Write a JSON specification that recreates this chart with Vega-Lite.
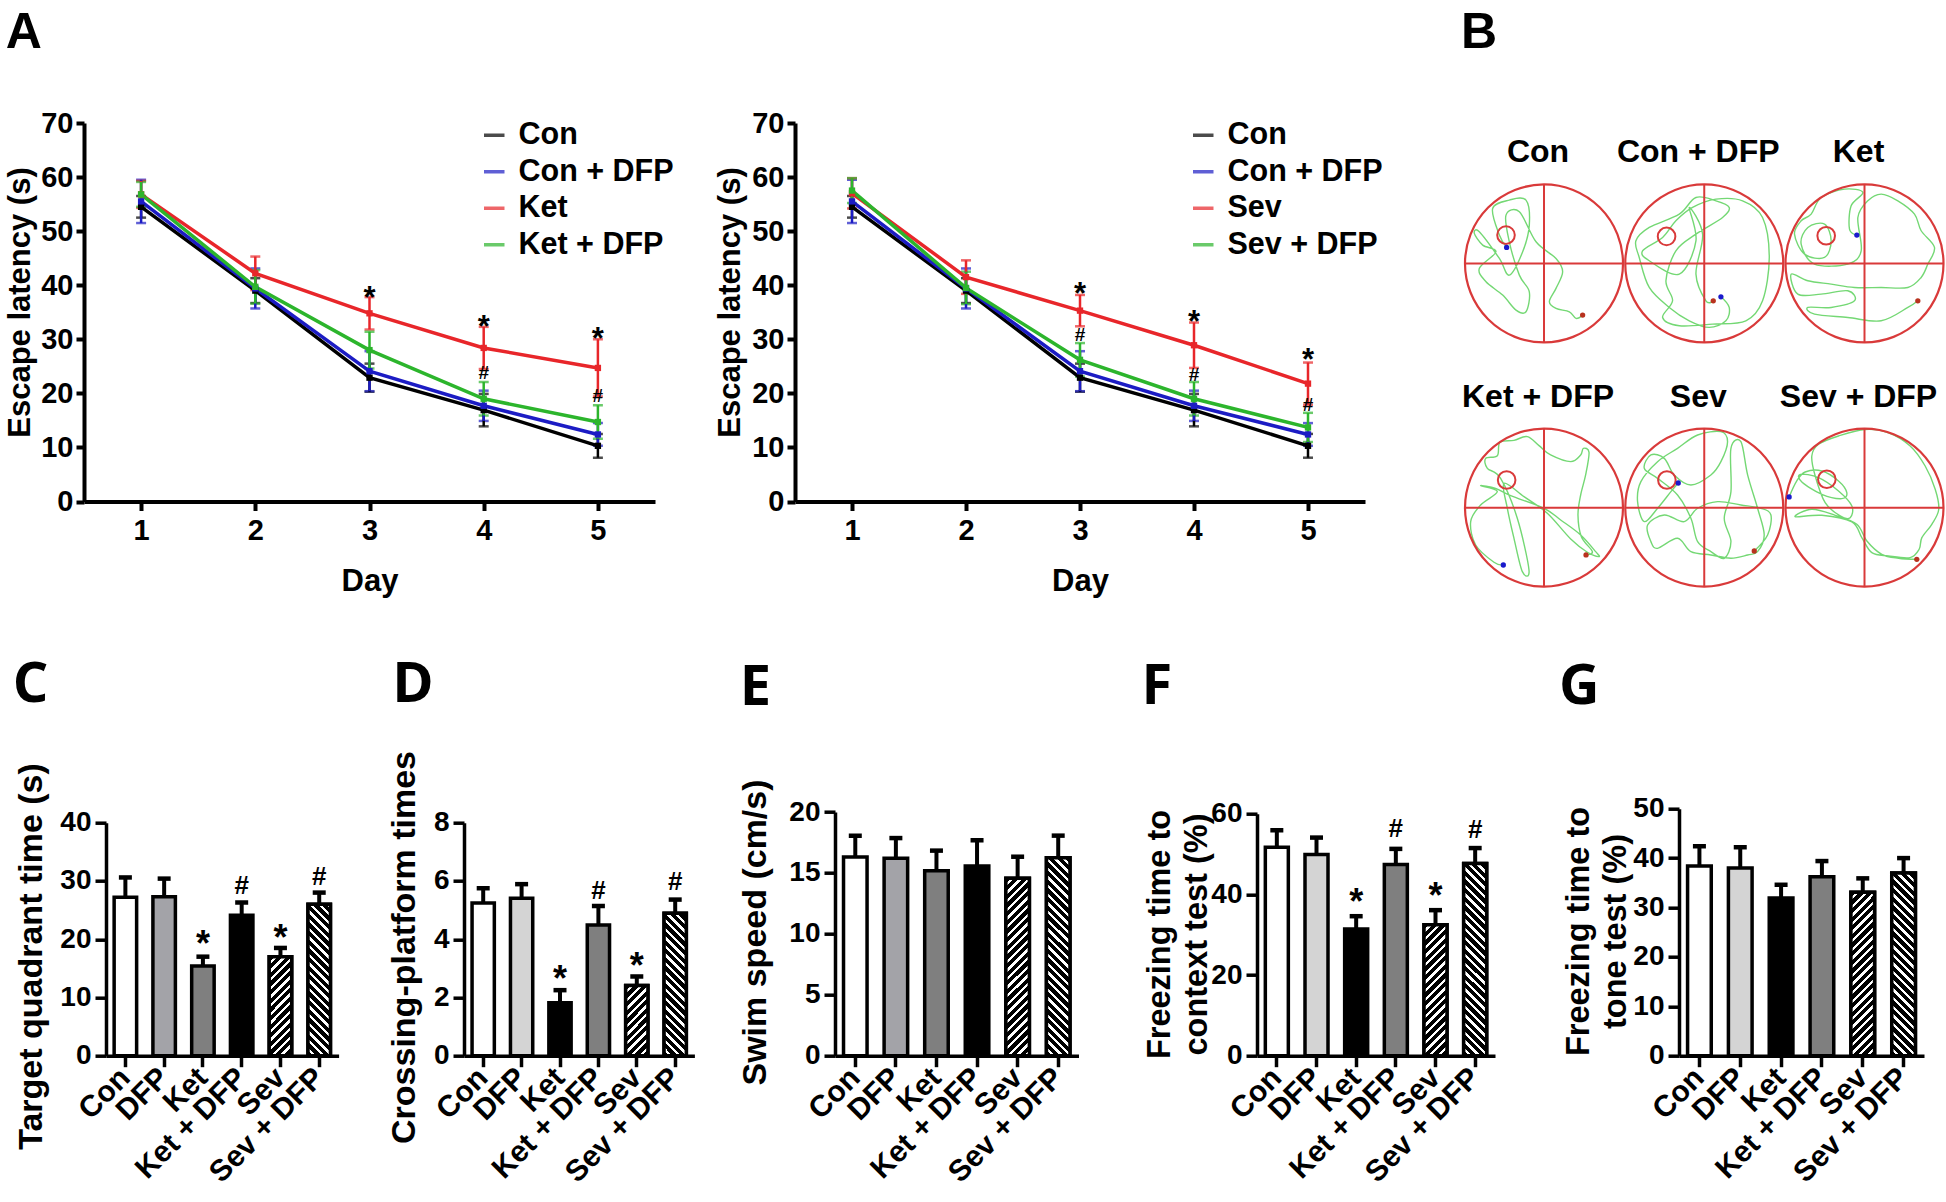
{
"$schema": "https://vega.github.io/schema/vega-lite/v6.json",
"padding": {"left": 4, "top": 8, "right": 4, "bottom": 4},
"background": "white",
"params": [{"name": "hatch", "value": [
{"offset":0,"color":"#000"},{"offset":0.022,"color":"#000"},{"offset":0.022,"color":"#fff"},{"offset":0.036,"color":"#fff"},
{"offset":0.036,"color":"#000"},{"offset":0.058,"color":"#000"},{"offset":0.058,"color":"#fff"},{"offset":0.072,"color":"#fff"},
{"offset":0.072,"color":"#000"},{"offset":0.094,"color":"#000"},{"offset":0.094,"color":"#fff"},{"offset":0.108,"color":"#fff"},
{"offset":0.108,"color":"#000"},{"offset":0.13,"color":"#000"},{"offset":0.13,"color":"#fff"},{"offset":0.144,"color":"#fff"},
{"offset":0.144,"color":"#000"},{"offset":0.166,"color":"#000"},{"offset":0.166,"color":"#fff"},{"offset":0.18,"color":"#fff"},
{"offset":0.18,"color":"#000"},{"offset":0.202,"color":"#000"},{"offset":0.202,"color":"#fff"},{"offset":0.216,"color":"#fff"},
{"offset":0.216,"color":"#000"},{"offset":0.238,"color":"#000"},{"offset":0.238,"color":"#fff"},{"offset":0.252,"color":"#fff"},
{"offset":0.252,"color":"#000"},{"offset":0.274,"color":"#000"},{"offset":0.274,"color":"#fff"},{"offset":0.288,"color":"#fff"},
{"offset":0.288,"color":"#000"},{"offset":0.31,"color":"#000"},{"offset":0.31,"color":"#fff"},{"offset":0.324,"color":"#fff"},
{"offset":0.324,"color":"#000"},{"offset":0.346,"color":"#000"},{"offset":0.346,"color":"#fff"},{"offset":0.36,"color":"#fff"},
{"offset":0.36,"color":"#000"},{"offset":0.382,"color":"#000"},{"offset":0.382,"color":"#fff"},{"offset":0.396,"color":"#fff"},
{"offset":0.396,"color":"#000"},{"offset":0.418,"color":"#000"},{"offset":0.418,"color":"#fff"},{"offset":0.432,"color":"#fff"},
{"offset":0.432,"color":"#000"},{"offset":0.454,"color":"#000"},{"offset":0.454,"color":"#fff"},{"offset":0.468,"color":"#fff"},
{"offset":0.468,"color":"#000"},{"offset":0.49,"color":"#000"},{"offset":0.49,"color":"#fff"},{"offset":0.504,"color":"#fff"},
{"offset":0.504,"color":"#000"},{"offset":0.526,"color":"#000"},{"offset":0.526,"color":"#fff"},{"offset":0.54,"color":"#fff"},
{"offset":0.54,"color":"#000"},{"offset":0.562,"color":"#000"},{"offset":0.562,"color":"#fff"},{"offset":0.576,"color":"#fff"},
{"offset":0.576,"color":"#000"},{"offset":0.598,"color":"#000"},{"offset":0.598,"color":"#fff"},{"offset":0.612,"color":"#fff"},
{"offset":0.612,"color":"#000"},{"offset":0.634,"color":"#000"},{"offset":0.634,"color":"#fff"},{"offset":0.648,"color":"#fff"},
{"offset":0.648,"color":"#000"},{"offset":0.67,"color":"#000"},{"offset":0.67,"color":"#fff"},{"offset":0.684,"color":"#fff"},
{"offset":0.684,"color":"#000"},{"offset":0.706,"color":"#000"},{"offset":0.706,"color":"#fff"},{"offset":0.72,"color":"#fff"},
{"offset":0.72,"color":"#000"},{"offset":0.742,"color":"#000"},{"offset":0.742,"color":"#fff"},{"offset":0.756,"color":"#fff"},
{"offset":0.756,"color":"#000"},{"offset":0.778,"color":"#000"},{"offset":0.778,"color":"#fff"},{"offset":0.792,"color":"#fff"},
{"offset":0.792,"color":"#000"},{"offset":0.814,"color":"#000"},{"offset":0.814,"color":"#fff"},{"offset":0.828,"color":"#fff"},
{"offset":0.828,"color":"#000"},{"offset":0.85,"color":"#000"},{"offset":0.85,"color":"#fff"},{"offset":0.864,"color":"#fff"},
{"offset":0.864,"color":"#000"},{"offset":0.886,"color":"#000"},{"offset":0.886,"color":"#fff"},{"offset":0.9,"color":"#fff"},
{"offset":0.9,"color":"#000"},{"offset":0.922,"color":"#000"},{"offset":0.922,"color":"#fff"},{"offset":0.936,"color":"#fff"},
{"offset":0.936,"color":"#000"},{"offset":0.958,"color":"#000"},{"offset":0.958,"color":"#fff"},{"offset":0.972,"color":"#fff"},
{"offset":0.972,"color":"#000"},{"offset":0.994,"color":"#000"},{"offset":0.994,"color":"#fff"},{"offset":1,"color":"#fff"}
]}],
"datasets": {
"latKet": [
{"day":1,"grp":"Con","m":54.5,"lo":52.5,"hi":56.5},{"day":2,"grp":"Con","m":39.0,"lo":36.7,"hi":41.3},{"day":3,"grp":"Con","m":22.9,"lo":20.3,"hi":25.5},{"day":4,"grp":"Con","m":16.9,"lo":13.9,"hi":19.9},{"day":5,"grp":"Con","m":10.3,"lo":8.1,"hi":12.5},
{"day":1,"grp":"Con + DFP","m":55.5,"lo":51.5,"hi":59.5},{"day":2,"grp":"Con + DFP","m":39.4,"lo":35.7,"hi":43.1},{"day":3,"grp":"Con + DFP","m":24.1,"lo":20.4,"hi":27.8},{"day":4,"grp":"Con + DFP","m":17.7,"lo":14.9,"hi":20.5},{"day":5,"grp":"Con + DFP","m":12.4,"lo":10.3,"hi":14.5},
{"day":1,"grp":"Ket","m":56.8,"lo":54.3,"hi":59.3},{"day":2,"grp":"Ket","m":42.2,"lo":39.1,"hi":45.3},{"day":3,"grp":"Ket","m":34.8,"lo":31.8,"hi":37.8},{"day":4,"grp":"Ket","m":28.4,"lo":24.5,"hi":32.3},{"day":5,"grp":"Ket","m":24.7,"lo":19.4,"hi":30.0},
{"day":1,"grp":"Ket + DFP","m":56.8,"lo":54.5,"hi":59.1},{"day":2,"grp":"Ket + DFP","m":39.7,"lo":36.6,"hi":42.8},{"day":3,"grp":"Ket + DFP","m":28.0,"lo":24.6,"hi":31.4},{"day":4,"grp":"Ket + DFP","m":19.0,"lo":15.9,"hi":22.1},{"day":5,"grp":"Ket + DFP","m":14.7,"lo":11.6,"hi":17.8}
],
"latSev": [
{"day":1,"grp":"Con","m":54.5,"lo":52.5,"hi":56.5},{"day":2,"grp":"Con","m":39.0,"lo":36.7,"hi":41.3},{"day":3,"grp":"Con","m":22.9,"lo":20.3,"hi":25.5},{"day":4,"grp":"Con","m":16.9,"lo":13.9,"hi":19.9},{"day":5,"grp":"Con","m":10.3,"lo":8.1,"hi":12.5},
{"day":1,"grp":"Con + DFP","m":55.5,"lo":51.5,"hi":59.5},{"day":2,"grp":"Con + DFP","m":39.4,"lo":35.7,"hi":43.1},{"day":3,"grp":"Con + DFP","m":24.1,"lo":20.4,"hi":27.8},{"day":4,"grp":"Con + DFP","m":17.7,"lo":14.9,"hi":20.5},{"day":5,"grp":"Con + DFP","m":12.4,"lo":10.3,"hi":14.5},
{"day":1,"grp":"Sev","m":57.0,"lo":54.2,"hi":59.8},{"day":2,"grp":"Sev","m":41.5,"lo":38.4,"hi":44.6},{"day":3,"grp":"Sev","m":35.3,"lo":32.4,"hi":38.2},{"day":4,"grp":"Sev","m":28.9,"lo":24.7,"hi":33.1},{"day":5,"grp":"Sev","m":21.8,"lo":17.9,"hi":25.7},
{"day":1,"grp":"Sev + DFP","m":57.5,"lo":55.2,"hi":59.8},{"day":2,"grp":"Sev + DFP","m":39.5,"lo":36.5,"hi":42.5},{"day":3,"grp":"Sev + DFP","m":26.2,"lo":23.1,"hi":29.3},{"day":4,"grp":"Sev + DFP","m":19.0,"lo":15.9,"hi":22.1},{"day":5,"grp":"Sev + DFP","m":13.7,"lo":11.0,"hi":16.4}
],
"marksKet": [{"day":3,"sym":"*","y":39.0},{"day":4,"sym":"*","y":33.6},{"day":5,"sym":"*","y":31.3},{"day":4,"sym":"#","y":24.0},{"day":5,"sym":"#","y":19.6}],
"marksSev": [{"day":3,"sym":"*","y":39.7},{"day":4,"sym":"*","y":34.4},{"day":5,"sym":"*","y":27.4},{"day":3,"sym":"#","y":30.9},{"day":4,"sym":"#","y":23.6},{"day":5,"sym":"#","y":18.0}],
"quad": [{"g":"Con","m":27.2,"hi":30.6},{"g":"DFP","m":27.3,"hi":30.4},{"g":"Ket","m":15.4,"hi":17.0},{"g":"Ket + DFP","m":24.1,"hi":26.3},{"g":"Sev","m":17.0,"hi":18.5},{"g":"Sev + DFP","m":26.0,"hi":28.0}],
"quadMarks": [{"g":"Ket","sym":"*","y":20.6},{"g":"Sev","sym":"*","y":21.6},{"g":"Ket + DFP","sym":"#","y":29.4},{"g":"Sev + DFP","sym":"#","y":30.9}],
"cross": [{"g":"Con","m":5.24,"hi":5.75},{"g":"DFP","m":5.41,"hi":5.89},{"g":"Ket","m":1.82,"hi":2.25},{"g":"Ket + DFP","m":4.49,"hi":5.14},{"g":"Sev","m":2.41,"hi":2.72},{"g":"Sev + DFP","m":4.89,"hi":5.36}],
"crossMarks": [{"g":"Ket","sym":"*","y":2.92},{"g":"Sev","sym":"*","y":3.36},{"g":"Ket + DFP","sym":"#","y":5.69},{"g":"Sev + DFP","sym":"#","y":6.0}],
"swim": [{"g":"Con","m":16.3,"hi":18.06},{"g":"DFP","m":16.2,"hi":17.86},{"g":"Ket","m":15.18,"hi":16.83},{"g":"Ket + DFP","m":15.57,"hi":17.68},{"g":"Sev","m":14.57,"hi":16.33},{"g":"Sev + DFP","m":16.24,"hi":18.06}],
"context": [{"g":"Con","m":51.7,"hi":55.9},{"g":"DFP","m":49.9,"hi":54.1},{"g":"Ket","m":31.4,"hi":34.6},{"g":"Ket + DFP","m":47.4,"hi":51.3},{"g":"Sev","m":32.5,"hi":36.1},{"g":"Sev + DFP","m":47.7,"hi":51.5}],
"contextMarks": [{"g":"Ket","sym":"*","y":40.1},{"g":"Sev","sym":"*","y":41.5},{"g":"Ket + DFP","sym":"#","y":56.6},{"g":"Sev + DFP","sym":"#","y":56.2}],
"tone": [{"g":"Con","m":38.4,"hi":42.4},{"g":"DFP","m":38.0,"hi":42.2},{"g":"Ket","m":31.9,"hi":34.6},{"g":"Ket + DFP","m":36.2,"hi":39.4},{"g":"Sev","m":33.1,"hi":35.9},{"g":"Sev + DFP","m":37.0,"hi":40.0}],
"maze": [
{"arena":"Con","kind":"platform","x":-0.481,"y":0.359},{"arena":"Con","kind":"start","x":-0.473,"y":0.203},{"arena":"Con","kind":"end","x":0.489,"y":-0.654},
{"arena":"Con + DFP","kind":"platform","x":-0.477,"y":0.342},{"arena":"Con + DFP","kind":"start","x":0.211,"y":-0.422},{"arena":"Con + DFP","kind":"end","x":0.114,"y":-0.473},
{"arena":"Ket","kind":"platform","x":-0.485,"y":0.35},{"arena":"Ket","kind":"start","x":-0.097,"y":0.359},{"arena":"Ket","kind":"end","x":0.675,"y":-0.473},
{"arena":"Ket + DFP","kind":"platform","x":-0.473,"y":0.35},{"arena":"Ket + DFP","kind":"start","x":-0.515,"y":-0.726},{"arena":"Ket + DFP","kind":"end","x":0.532,"y":-0.599},
{"arena":"Sev","kind":"platform","x":-0.473,"y":0.35},{"arena":"Sev","kind":"start","x":-0.329,"y":0.312},{"arena":"Sev","kind":"end","x":0.633,"y":-0.549},
{"arena":"Sev + DFP","kind":"platform","x":-0.477,"y":0.359},{"arena":"Sev + DFP","kind":"start","x":-0.954,"y":0.135},{"arena":"Sev + DFP","kind":"end","x":0.662,"y":-0.654},
{"arena":"Con","kind":"path","i":0,"x":-0.473,"y":0.203},{"arena":"Con","kind":"path","i":1,"x":-0.565,"y":0.359},{"arena":"Con","kind":"path","i":2,"x":-0.65,"y":0.696},{"arena":"Con","kind":"path","i":3,"x":-0.439,"y":0.802},{"arena":"Con","kind":"path","i":4,"x":-0.228,"y":0.802},{"arena":"Con","kind":"path","i":5,"x":-0.186,"y":0.485},{"arena":"Con","kind":"path","i":6,"x":-0.27,"y":0.148},{"arena":"Con","kind":"path","i":7,"x":-0.439,"y":-0.148},{"arena":"Con","kind":"path","i":8,"x":-0.565,"y":0.063},{"arena":"Con","kind":"path","i":9,"x":-0.819,"y":0.401},{"arena":"Con","kind":"path","i":10,"x":-0.882,"y":0.38},{"arena":"Con","kind":"path","i":11,"x":-0.776,"y":0.232},{"arena":"Con","kind":"path","i":12,"x":-0.608,"y":0.148},{"arena":"Con","kind":"path","i":13,"x":-0.819,"y":-0.063},{"arena":"Con","kind":"path","i":14,"x":-0.734,"y":-0.232},{"arena":"Con","kind":"path","i":15,"x":-0.523,"y":-0.401},{"arena":"Con","kind":"path","i":16,"x":-0.354,"y":-0.591},{"arena":"Con","kind":"path","i":17,"x":-0.228,"y":-0.612},{"arena":"Con","kind":"path","i":18,"x":-0.186,"y":-0.359},{"arena":"Con","kind":"path","i":19,"x":-0.312,"y":-0.148},{"arena":"Con","kind":"path","i":20,"x":-0.439,"y":0.274},{"arena":"Con","kind":"path","i":21,"x":-0.481,"y":0.612},{"arena":"Con","kind":"path","i":22,"x":-0.312,"y":0.654},{"arena":"Con","kind":"path","i":23,"x":-0.101,"y":0.274},{"arena":"Con","kind":"path","i":24,"x":0.152,"y":0.063},{"arena":"Con","kind":"path","i":25,"x":0.236,"y":-0.105},{"arena":"Con","kind":"path","i":26,"x":0.152,"y":-0.316},{"arena":"Con","kind":"path","i":27,"x":0.068,"y":-0.485},{"arena":"Con","kind":"path","i":28,"x":0.152,"y":-0.57},{"arena":"Con","kind":"path","i":29,"x":0.321,"y":-0.612},{"arena":"Con","kind":"path","i":30,"x":0.405,"y":-0.696},{"arena":"Con","kind":"path","i":31,"x":0.489,"y":-0.654},
{"arena":"Con + DFP","kind":"path","i":0,"x":0.211,"y":-0.422},{"arena":"Con + DFP","kind":"path","i":1,"x":0.316,"y":-0.557},{"arena":"Con + DFP","kind":"path","i":2,"x":0.274,"y":-0.726},{"arena":"Con + DFP","kind":"path","i":3,"x":0.063,"y":-0.81},{"arena":"Con + DFP","kind":"path","i":4,"x":-0.19,"y":-0.726},{"arena":"Con + DFP","kind":"path","i":5,"x":-0.443,"y":-0.557},{"arena":"Con + DFP","kind":"path","i":6,"x":-0.696,"y":-0.304},{"arena":"Con + DFP","kind":"path","i":7,"x":-0.823,"y":0.076},{"arena":"Con + DFP","kind":"path","i":8,"x":-0.865,"y":0.287},{"arena":"Con + DFP","kind":"path","i":9,"x":-0.696,"y":0.456},{"arena":"Con + DFP","kind":"path","i":10,"x":-0.316,"y":0.624},{"arena":"Con + DFP","kind":"path","i":11,"x":-0.105,"y":0.835},{"arena":"Con + DFP","kind":"path","i":12,"x":0.148,"y":0.793},{"arena":"Con + DFP","kind":"path","i":13,"x":0.316,"y":0.709},{"arena":"Con + DFP","kind":"path","i":14,"x":0.232,"y":0.582},{"arena":"Con + DFP","kind":"path","i":15,"x":-0.105,"y":0.371},{"arena":"Con + DFP","kind":"path","i":16,"x":-0.359,"y":0.16},{"arena":"Con + DFP","kind":"path","i":17,"x":-0.485,"y":-0.219},{"arena":"Con + DFP","kind":"path","i":18,"x":-0.401,"y":-0.473},{"arena":"Con + DFP","kind":"path","i":19,"x":-0.527,"y":-0.684},{"arena":"Con + DFP","kind":"path","i":20,"x":-0.316,"y":-0.789},{"arena":"Con + DFP","kind":"path","i":21,"x":0.105,"y":-0.768},{"arena":"Con + DFP","kind":"path","i":22,"x":0.527,"y":-0.726},{"arena":"Con + DFP","kind":"path","i":23,"x":0.738,"y":-0.473},{"arena":"Con + DFP","kind":"path","i":24,"x":0.823,"y":0.076},{"arena":"Con + DFP","kind":"path","i":25,"x":0.738,"y":0.582},{"arena":"Con + DFP","kind":"path","i":26,"x":0.485,"y":0.793},{"arena":"Con + DFP","kind":"path","i":27,"x":0.148,"y":0.814},{"arena":"Con + DFP","kind":"path","i":28,"x":-0.148,"y":0.709},{"arena":"Con + DFP","kind":"path","i":29,"x":-0.359,"y":0.54},{"arena":"Con + DFP","kind":"path","i":30,"x":-0.527,"y":0.329},{"arena":"Con + DFP","kind":"path","i":31,"x":-0.781,"y":0.16},{"arena":"Con + DFP","kind":"path","i":32,"x":-0.696,"y":0.034},{"arena":"Con + DFP","kind":"path","i":33,"x":-0.316,"y":-0.135},{"arena":"Con + DFP","kind":"path","i":34,"x":-0.105,"y":0.287},{"arena":"Con + DFP","kind":"path","i":35,"x":-0.19,"y":0.709},{"arena":"Con + DFP","kind":"path","i":36,"x":-0.021,"y":0.371},{"arena":"Con + DFP","kind":"path","i":37,"x":-0.105,"y":-0.135},{"arena":"Con + DFP","kind":"path","i":38,"x":0.021,"y":-0.473},{"arena":"Con + DFP","kind":"path","i":39,"x":0.114,"y":-0.473},
{"arena":"Ket","kind":"path","i":0,"x":-0.097,"y":0.359},{"arena":"Ket","kind":"path","i":1,"x":-0.19,"y":0.435},{"arena":"Ket","kind":"path","i":2,"x":-0.169,"y":0.73},{"arena":"Ket","kind":"path","i":3,"x":-0.021,"y":0.899},{"arena":"Ket","kind":"path","i":4,"x":-0.253,"y":0.941},{"arena":"Ket","kind":"path","i":5,"x":-0.549,"y":0.835},{"arena":"Ket","kind":"path","i":6,"x":-0.675,"y":0.624},{"arena":"Ket","kind":"path","i":7,"x":-0.802,"y":0.54},{"arena":"Ket","kind":"path","i":8,"x":-0.886,"y":0.371},{"arena":"Ket","kind":"path","i":9,"x":-0.759,"y":0.118},{"arena":"Ket","kind":"path","i":10,"x":-0.506,"y":0.076},{"arena":"Ket","kind":"path","i":11,"x":-0.422,"y":0.287},{"arena":"Ket","kind":"path","i":12,"x":-0.506,"y":0.498},{"arena":"Ket","kind":"path","i":13,"x":-0.717,"y":0.456},{"arena":"Ket","kind":"path","i":14,"x":-0.802,"y":0.245},{"arena":"Ket","kind":"path","i":15,"x":-0.633,"y":-0.008},{"arena":"Ket","kind":"path","i":16,"x":-0.211,"y":-0.008},{"arena":"Ket","kind":"path","i":17,"x":-0.042,"y":0.16},{"arena":"Ket","kind":"path","i":18,"x":-0.084,"y":0.582},{"arena":"Ket","kind":"path","i":19,"x":0.042,"y":0.793},{"arena":"Ket","kind":"path","i":20,"x":0.211,"y":0.878},{"arena":"Ket","kind":"path","i":21,"x":0.422,"y":0.793},{"arena":"Ket","kind":"path","i":22,"x":0.633,"y":0.624},{"arena":"Ket","kind":"path","i":23,"x":0.717,"y":0.414},{"arena":"Ket","kind":"path","i":24,"x":0.886,"y":0.203},{"arena":"Ket","kind":"path","i":25,"x":0.802,"y":-0.008},{"arena":"Ket","kind":"path","i":26,"x":0.717,"y":-0.177},{"arena":"Ket","kind":"path","i":27,"x":0.549,"y":-0.304},{"arena":"Ket","kind":"path","i":28,"x":0.211,"y":-0.304},{"arena":"Ket","kind":"path","i":29,"x":-0.127,"y":-0.304},{"arena":"Ket","kind":"path","i":30,"x":-0.422,"y":-0.262},{"arena":"Ket","kind":"path","i":31,"x":-0.717,"y":-0.219},{"arena":"Ket","kind":"path","i":32,"x":-0.928,"y":-0.135},{"arena":"Ket","kind":"path","i":33,"x":-0.844,"y":-0.388},{"arena":"Ket","kind":"path","i":34,"x":-0.549,"y":-0.388},{"arena":"Ket","kind":"path","i":35,"x":-0.211,"y":-0.346},{"arena":"Ket","kind":"path","i":36,"x":-0.127,"y":-0.473},{"arena":"Ket","kind":"path","i":37,"x":-0.422,"y":-0.557},{"arena":"Ket","kind":"path","i":38,"x":-0.717,"y":-0.557},{"arena":"Ket","kind":"path","i":39,"x":-0.633,"y":-0.641},{"arena":"Ket","kind":"path","i":40,"x":-0.211,"y":-0.684},{"arena":"Ket","kind":"path","i":41,"x":0.211,"y":-0.726},{"arena":"Ket","kind":"path","i":42,"x":0.549,"y":-0.557},{"arena":"Ket","kind":"path","i":43,"x":0.675,"y":-0.473},
{"arena":"Ket + DFP","kind":"path","i":0,"x":-0.515,"y":-0.726},{"arena":"Ket + DFP","kind":"path","i":1,"x":-0.633,"y":-0.692},{"arena":"Ket + DFP","kind":"path","i":2,"x":-0.865,"y":-0.473},{"arena":"Ket + DFP","kind":"path","i":3,"x":-0.928,"y":-0.177},{"arena":"Ket + DFP","kind":"path","i":4,"x":-0.802,"y":0.034},{"arena":"Ket + DFP","kind":"path","i":5,"x":-0.591,"y":0.203},{"arena":"Ket + DFP","kind":"path","i":6,"x":-0.802,"y":0.278},{"arena":"Ket + DFP","kind":"path","i":7,"x":-0.612,"y":0.245},{"arena":"Ket + DFP","kind":"path","i":8,"x":-0.422,"y":0.152},{"arena":"Ket + DFP","kind":"path","i":9,"x":0.0,"y":-0.008},{"arena":"Ket + DFP","kind":"path","i":10,"x":0.211,"y":-0.156},{"arena":"Ket + DFP","kind":"path","i":11,"x":0.464,"y":-0.346},{"arena":"Ket + DFP","kind":"path","i":12,"x":0.654,"y":-0.557},{"arena":"Ket + DFP","kind":"path","i":13,"x":0.696,"y":-0.62},{"arena":"Ket + DFP","kind":"path","i":14,"x":0.549,"y":-0.565},{"arena":"Ket + DFP","kind":"path","i":15,"x":0.338,"y":-0.397},{"arena":"Ket + DFP","kind":"path","i":16,"x":0.042,"y":-0.072},{"arena":"Ket + DFP","kind":"path","i":17,"x":-0.253,"y":0.139},{"arena":"Ket + DFP","kind":"path","i":18,"x":-0.506,"y":0.308},{"arena":"Ket + DFP","kind":"path","i":19,"x":-0.464,"y":-0.008},{"arena":"Ket + DFP","kind":"path","i":20,"x":-0.38,"y":-0.388},{"arena":"Ket + DFP","kind":"path","i":21,"x":-0.274,"y":-0.81},{"arena":"Ket + DFP","kind":"path","i":22,"x":-0.19,"y":-0.789},{"arena":"Ket + DFP","kind":"path","i":23,"x":-0.338,"y":-0.135},{"arena":"Ket + DFP","kind":"path","i":24,"x":-0.549,"y":0.371},{"arena":"Ket + DFP","kind":"path","i":25,"x":-0.717,"y":0.498},{"arena":"Ket + DFP","kind":"path","i":26,"x":-0.738,"y":0.624},{"arena":"Ket + DFP","kind":"path","i":27,"x":-0.591,"y":0.658},{"arena":"Ket + DFP","kind":"path","i":28,"x":-0.557,"y":0.827},{"arena":"Ket + DFP","kind":"path","i":29,"x":-0.38,"y":0.852},{"arena":"Ket + DFP","kind":"path","i":30,"x":-0.211,"y":0.899},{"arena":"Ket + DFP","kind":"path","i":31,"x":-0.063,"y":0.785},{"arena":"Ket + DFP","kind":"path","i":32,"x":0.084,"y":0.667},{"arena":"Ket + DFP","kind":"path","i":33,"x":0.338,"y":0.582},{"arena":"Ket + DFP","kind":"path","i":34,"x":0.464,"y":0.667},{"arena":"Ket + DFP","kind":"path","i":35,"x":0.498,"y":0.751},{"arena":"Ket + DFP","kind":"path","i":36,"x":0.57,"y":0.7},{"arena":"Ket + DFP","kind":"path","i":37,"x":0.527,"y":0.414},{"arena":"Ket + DFP","kind":"path","i":38,"x":0.464,"y":0.16},{"arena":"Ket + DFP","kind":"path","i":39,"x":0.43,"y":-0.093},{"arena":"Ket + DFP","kind":"path","i":40,"x":0.473,"y":-0.367},{"arena":"Ket + DFP","kind":"path","i":41,"x":0.612,"y":-0.557},{"arena":"Ket + DFP","kind":"path","i":42,"x":0.532,"y":-0.599},
{"arena":"Sev","kind":"path","i":0,"x":-0.329,"y":0.312},{"arena":"Sev","kind":"path","i":1,"x":-0.422,"y":0.203},{"arena":"Sev","kind":"path","i":2,"x":-0.591,"y":-0.008},{"arena":"Sev","kind":"path","i":3,"x":-0.759,"y":-0.177},{"arena":"Sev","kind":"path","i":4,"x":-0.844,"y":0.076},{"arena":"Sev","kind":"path","i":5,"x":-0.802,"y":0.329},{"arena":"Sev","kind":"path","i":6,"x":-0.591,"y":0.582},{"arena":"Sev","kind":"path","i":7,"x":-0.338,"y":0.751},{"arena":"Sev","kind":"path","i":8,"x":-0.084,"y":0.92},{"arena":"Sev","kind":"path","i":9,"x":0.211,"y":0.962},{"arena":"Sev","kind":"path","i":10,"x":0.295,"y":0.835},{"arena":"Sev","kind":"path","i":11,"x":0.211,"y":0.582},{"arena":"Sev","kind":"path","i":12,"x":0.084,"y":0.414},{"arena":"Sev","kind":"path","i":13,"x":-0.169,"y":0.287},{"arena":"Sev","kind":"path","i":14,"x":-0.38,"y":0.414},{"arena":"Sev","kind":"path","i":15,"x":-0.506,"y":0.624},{"arena":"Sev","kind":"path","i":16,"x":-0.675,"y":0.667},{"arena":"Sev","kind":"path","i":17,"x":-0.759,"y":0.498},{"arena":"Sev","kind":"path","i":18,"x":-0.591,"y":0.371},{"arena":"Sev","kind":"path","i":19,"x":-0.338,"y":0.16},{"arena":"Sev","kind":"path","i":20,"x":-0.169,"y":-0.135},{"arena":"Sev","kind":"path","i":21,"x":-0.084,"y":-0.43},{"arena":"Sev","kind":"path","i":22,"x":0.084,"y":-0.557},{"arena":"Sev","kind":"path","i":23,"x":0.253,"y":-0.641},{"arena":"Sev","kind":"path","i":24,"x":0.338,"y":-0.43},{"arena":"Sev","kind":"path","i":25,"x":0.253,"y":-0.135},{"arena":"Sev","kind":"path","i":26,"x":0.338,"y":0.203},{"arena":"Sev","kind":"path","i":27,"x":0.338,"y":0.751},{"arena":"Sev","kind":"path","i":28,"x":0.464,"y":0.835},{"arena":"Sev","kind":"path","i":29,"x":0.549,"y":0.414},{"arena":"Sev","kind":"path","i":30,"x":0.675,"y":-0.008},{"arena":"Sev","kind":"path","i":31,"x":0.759,"y":-0.346},{"arena":"Sev","kind":"path","i":32,"x":0.675,"y":-0.557},{"arena":"Sev","kind":"path","i":33,"x":0.549,"y":-0.599},{"arena":"Sev","kind":"path","i":34,"x":0.338,"y":-0.641},{"arena":"Sev","kind":"path","i":35,"x":0.084,"y":-0.599},{"arena":"Sev","kind":"path","i":36,"x":-0.169,"y":-0.557},{"arena":"Sev","kind":"path","i":37,"x":-0.338,"y":-0.388},{"arena":"Sev","kind":"path","i":38,"x":-0.591,"y":-0.515},{"arena":"Sev","kind":"path","i":39,"x":-0.675,"y":-0.43},{"arena":"Sev","kind":"path","i":40,"x":-0.717,"y":-0.219},{"arena":"Sev","kind":"path","i":41,"x":-0.506,"y":-0.093},{"arena":"Sev","kind":"path","i":42,"x":-0.253,"y":-0.177},{"arena":"Sev","kind":"path","i":43,"x":-0.084,"y":-0.008},{"arena":"Sev","kind":"path","i":44,"x":0.169,"y":0.076},{"arena":"Sev","kind":"path","i":45,"x":0.464,"y":0.034},{"arena":"Sev","kind":"path","i":46,"x":0.717,"y":-0.008},{"arena":"Sev","kind":"path","i":47,"x":0.844,"y":-0.093},{"arena":"Sev","kind":"path","i":48,"x":0.802,"y":-0.346},{"arena":"Sev","kind":"path","i":49,"x":0.633,"y":-0.549},
{"arena":"Sev + DFP","kind":"path","i":0,"x":-0.954,"y":0.135},{"arena":"Sev + DFP","kind":"path","i":1,"x":-0.857,"y":0.338},{"arena":"Sev + DFP","kind":"path","i":2,"x":-0.751,"y":0.451},{"arena":"Sev + DFP","kind":"path","i":3,"x":-0.54,"y":0.464},{"arena":"Sev + DFP","kind":"path","i":4,"x":-0.329,"y":0.338},{"arena":"Sev + DFP","kind":"path","i":5,"x":-0.224,"y":0.19},{"arena":"Sev + DFP","kind":"path","i":6,"x":-0.287,"y":0.114},{"arena":"Sev + DFP","kind":"path","i":7,"x":-0.54,"y":0.169},{"arena":"Sev + DFP","kind":"path","i":8,"x":-0.793,"y":0.325},{"arena":"Sev + DFP","kind":"path","i":9,"x":-0.814,"y":0.422},{"arena":"Sev + DFP","kind":"path","i":10,"x":-0.582,"y":0.38},{"arena":"Sev + DFP","kind":"path","i":11,"x":-0.329,"y":0.211},{"arena":"Sev + DFP","kind":"path","i":12,"x":-0.16,"y":0.021},{"arena":"Sev + DFP","kind":"path","i":13,"x":-0.181,"y":-0.127},{"arena":"Sev + DFP","kind":"path","i":14,"x":-0.308,"y":-0.105},{"arena":"Sev + DFP","kind":"path","i":15,"x":-0.498,"y":0.063},{"arena":"Sev + DFP","kind":"path","i":16,"x":-0.624,"y":0.401},{"arena":"Sev + DFP","kind":"path","i":17,"x":-0.667,"y":0.654},{"arena":"Sev + DFP","kind":"path","i":18,"x":-0.582,"y":0.802},{"arena":"Sev + DFP","kind":"path","i":19,"x":-0.329,"y":0.907},{"arena":"Sev + DFP","kind":"path","i":20,"x":0.008,"y":0.99},{"arena":"Sev + DFP","kind":"path","i":21,"x":0.304,"y":0.948},{"arena":"Sev + DFP","kind":"path","i":22,"x":0.578,"y":0.781},{"arena":"Sev + DFP","kind":"path","i":23,"x":0.768,"y":0.527},{"arena":"Sev + DFP","kind":"path","i":24,"x":0.895,"y":0.232},{"arena":"Sev + DFP","kind":"path","i":25,"x":0.94,"y":-0.021},{"arena":"Sev + DFP","kind":"path","i":26,"x":0.852,"y":-0.211},{"arena":"Sev + DFP","kind":"path","i":27,"x":0.726,"y":-0.38},{"arena":"Sev + DFP","kind":"path","i":28,"x":0.692,"y":-0.527},{"arena":"Sev + DFP","kind":"path","i":29,"x":0.578,"y":-0.633},{"arena":"Sev + DFP","kind":"path","i":30,"x":0.304,"y":-0.612},{"arena":"Sev + DFP","kind":"path","i":31,"x":0.093,"y":-0.57},{"arena":"Sev + DFP","kind":"path","i":32,"x":-0.034,"y":-0.38},{"arena":"Sev + DFP","kind":"path","i":33,"x":-0.16,"y":-0.181},{"arena":"Sev + DFP","kind":"path","i":34,"x":-0.54,"y":-0.097},{"arena":"Sev + DFP","kind":"path","i":35,"x":-0.878,"y":-0.114},{"arena":"Sev + DFP","kind":"path","i":36,"x":-0.667,"y":-0.021},{"arena":"Sev + DFP","kind":"path","i":37,"x":-0.371,"y":-0.097},{"arena":"Sev + DFP","kind":"path","i":38,"x":-0.097,"y":-0.211},{"arena":"Sev + DFP","kind":"path","i":39,"x":0.03,"y":-0.422},{"arena":"Sev + DFP","kind":"path","i":40,"x":0.219,"y":-0.591},{"arena":"Sev + DFP","kind":"path","i":41,"x":0.43,"y":-0.641},{"arena":"Sev + DFP","kind":"path","i":42,"x":0.662,"y":-0.654}
]
},
"vconcat": [
{
"hconcat": [
{
"width": 571, "height": 378.5,
"title": {"text": "A", "anchor": "start", "frame": "group", "dx": -78.2, "offset": 10.6, "baseline": "alphabetic", "fontSize": 50, "font": "Liberation Sans", "fontWeight": "bold", "color": "black"},
"encoding": {"x": {"field": "day", "type": "quantitative", "scale": {"domain": [0.5, 5.5], "nice": false, "zero": false}, "axis": {"values": [1,2,3,4,5], "format": "d", "title": "Day", "titleY": 80, "titleBaseline": "middle", "titleFontSize": 31, "labelFontSize": 29, "tickSize": 9, "labelPadding": 6, "domainWidth": 4, "tickWidth": 4}}},
"layer": [
{"data": {"name": "latKet"}, "mark": {"type": "errorbar", "ticks": true, "size": 10, "thickness": 2.5},
 "encoding": {"y": {"field": "lo", "type": "quantitative", "title": "Escape latency (s)", "scale": {"domain": [0, 70], "nice": false}, "axis": {"values": [0,10,20,30,40,50,60,70], "titleX": -64, "titleY": 179, "titleBaseline": "middle", "titleFontSize": 31, "labelFontSize": 29, "tickSize": 8, "labelPadding": 3, "domainWidth": 4, "tickWidth": 4}}, "y2": {"field": "hi"},
  "color": {"field": "grp", "type": "nominal", "scale": {"domain": ["Con", "Con + DFP", "Ket", "Ket + DFP"], "range": ["#000000", "#1c1cc4", "#e8262a", "#2cb52c"]},
   "legend": {"orient": "none", "legendX": 395, "legendY": -3, "title": null, "symbolType": "stroke", "symbolStrokeWidth": 3.5, "symbolSize": 420, "labelFontSize": 30.5, "labelFont": "Liberation Sans", "labelFontWeight": "bold", "labelColor": "black", "rowPadding": 5.5, "labelOffset": 9, "padding": 0, "labelLimit": 300}}}},
{"data": {"name": "latKet"}, "mark": {"type": "line", "strokeWidth": 3.5},
 "encoding": {"y": {"field": "m", "type": "quantitative", "title": "Escape latency (s)", "scale": {"domain": [0, 70], "nice": false}}, "color": {"field": "grp", "type": "nominal"}}},
{"data": {"name": "latKet"}, "mark": {"type": "point", "filled": true, "shape": "square", "size": 40, "opacity": 1},
 "encoding": {"y": {"field": "m", "type": "quantitative", "title": "Escape latency (s)", "scale": {"domain": [0, 70], "nice": false}}, "color": {"field": "grp", "type": "nominal"}}},
{"data": {"name": "marksKet"}, "transform": [{"filter": "datum.sym === '*'"}], "mark": {"type": "text", "fontSize": 31, "fontWeight": "bold", "font": "Liberation Sans", "dy": 17, "color": "black", "baseline": "alphabetic"},
 "encoding": {"y": {"field": "y", "type": "quantitative", "title": "Escape latency (s)", "scale": {"domain": [0, 70], "nice": false}}, "text": {"field": "sym"}}},
{"data": {"name": "marksKet"}, "transform": [{"filter": "datum.sym === '#'"}], "mark": {"type": "text", "fontSize": 19, "fontWeight": "bold", "font": "Liberation Sans", "dy": 6.8, "color": "black", "baseline": "alphabetic"},
 "encoding": {"y": {"field": "y", "type": "quantitative", "title": "Escape latency (s)", "scale": {"domain": [0, 70], "nice": false}}, "text": {"field": "sym"}}}
]
},
{"width": 140, "height": 10, "data": {"values": [{}]}, "mark": {"type": "point", "opacity": 0}},
{
"width": 570, "height": 378.5,
"title": {"text": "B", "anchor": "start", "frame": "group", "dx": 666, "offset": 10.6, "baseline": "alphabetic", "fontSize": 50, "font": "Liberation Sans", "fontWeight": "bold", "color": "black"},
"encoding": {"x": {"field": "day", "type": "quantitative", "scale": {"domain": [0.5, 5.5], "nice": false, "zero": false}, "axis": {"values": [1,2,3,4,5], "format": "d", "title": "Day", "titleY": 80, "titleBaseline": "middle", "titleFontSize": 31, "labelFontSize": 29, "tickSize": 9, "labelPadding": 6, "domainWidth": 4, "tickWidth": 4}}},
"layer": [
{"data": {"name": "latSev"}, "mark": {"type": "errorbar", "ticks": true, "size": 10, "thickness": 2.5},
 "encoding": {"y": {"field": "lo", "type": "quantitative", "title": "Escape latency (s)", "scale": {"domain": [0, 70], "nice": false}, "axis": {"values": [0,10,20,30,40,50,60,70], "titleX": -64.5, "titleY": 179, "titleBaseline": "middle", "titleFontSize": 31, "labelFontSize": 29, "tickSize": 8, "labelPadding": 3, "domainWidth": 4, "tickWidth": 4}}, "y2": {"field": "hi"},
  "color": {"field": "grp", "type": "nominal", "scale": {"domain": ["Con", "Con + DFP", "Sev", "Sev + DFP"], "range": ["#000000", "#1c1cc4", "#e8262a", "#2cb52c"]},
   "legend": {"orient": "none", "legendX": 393, "legendY": -3, "title": null, "symbolType": "stroke", "symbolStrokeWidth": 3.5, "symbolSize": 420, "labelFontSize": 30.5, "labelFont": "Liberation Sans", "labelFontWeight": "bold", "labelColor": "black", "rowPadding": 5.5, "labelOffset": 9, "padding": 0, "labelLimit": 300}}}},
{"data": {"name": "latSev"}, "mark": {"type": "line", "strokeWidth": 3.5},
 "encoding": {"y": {"field": "m", "type": "quantitative", "title": "Escape latency (s)", "scale": {"domain": [0, 70], "nice": false}}, "color": {"field": "grp", "type": "nominal"}}},
{"data": {"name": "latSev"}, "mark": {"type": "point", "filled": true, "shape": "square", "size": 40, "opacity": 1},
 "encoding": {"y": {"field": "m", "type": "quantitative", "title": "Escape latency (s)", "scale": {"domain": [0, 70], "nice": false}}, "color": {"field": "grp", "type": "nominal"}}},
{"data": {"name": "marksSev"}, "transform": [{"filter": "datum.sym === '*'"}], "mark": {"type": "text", "fontSize": 31, "fontWeight": "bold", "font": "Liberation Sans", "dy": 17, "color": "black", "baseline": "alphabetic"},
 "encoding": {"y": {"field": "y", "type": "quantitative", "title": "Escape latency (s)", "scale": {"domain": [0, 70], "nice": false}}, "text": {"field": "sym"}}},
{"data": {"name": "marksSev"}, "transform": [{"filter": "datum.sym === '#'"}], "mark": {"type": "text", "fontSize": 19, "fontWeight": "bold", "font": "Liberation Sans", "dy": 6.8, "color": "black", "baseline": "alphabetic"},
 "encoding": {"y": {"field": "y", "type": "quantitative", "title": "Escape latency (s)", "scale": {"domain": [0, 70], "nice": false}}, "text": {"field": "sym"}}}
]
},
{"width": 99.5, "height": 10, "data": {"values": [{}]}, "mark": {"type": "point", "opacity": 0}},
{
"data": {"name": "maze"},
"facet": {"field": "arena", "type": "nominal", "sort": ["Con", "Con + DFP", "Ket", "Ket + DFP", "Sev", "Sev + DFP"], "header": {"title": null, "labels": false, "labelFontSize": 1, "labelColor": "#ffffff00", "labelPadding": 0}},
"columns": 3,
"bounds": "flush",
"spacing": {"row": 22.2, "column": 2.25},
"spec": {
"width": 158, "height": 221.8,
"layer": [
{"transform": [{"filter": "datum.kind === 'path'"}], "mark": {"type": "line", "color": "#74d874", "strokeWidth": 1.4, "interpolate": "cardinal"},
 "encoding": {"x": {"field": "x", "type": "quantitative", "scale": {"domain": [-1, 1], "nice": false, "zero": false}, "axis": null}, "y": {"field": "y", "type": "quantitative", "scale": {"domain": [-1.03, 1.778], "nice": false, "zero": false}, "axis": null}, "order": {"field": "i", "type": "quantitative"}}},
{"transform": [{"filter": "datum.kind === 'platform'"}], "mark": {"type": "point", "shape": "circle", "size": 24964, "filled": false, "stroke": "#d93a3a", "strokeWidth": 2.2, "opacity": 1},
 "encoding": {"x": {"datum": 0, "type": "quantitative", "scale": {"domain": [-1, 1], "nice": false, "zero": false}, "axis": null}, "y": {"datum": 0, "type": "quantitative", "scale": {"domain": [-1.03, 1.778], "nice": false, "zero": false}, "axis": null}}},
{"transform": [{"filter": "datum.kind === 'platform'"}], "mark": {"type": "rule", "color": "#d93a3a", "strokeWidth": 2},
 "encoding": {"x": {"datum": -1, "type": "quantitative", "scale": {"domain": [-1, 1], "nice": false, "zero": false}, "axis": null}, "x2": {"datum": 1}, "y": {"datum": 0, "type": "quantitative", "scale": {"domain": [-1.03, 1.778], "nice": false, "zero": false}, "axis": null}}},
{"transform": [{"filter": "datum.kind === 'platform'"}], "mark": {"type": "rule", "color": "#d93a3a", "strokeWidth": 2},
 "encoding": {"x": {"datum": 0, "type": "quantitative", "scale": {"domain": [-1, 1], "nice": false, "zero": false}, "axis": null}, "y": {"datum": -1, "type": "quantitative", "scale": {"domain": [-1.03, 1.778], "nice": false, "zero": false}, "axis": null}, "y2": {"datum": 1}}},
{"transform": [{"filter": "datum.kind === 'platform'"}], "mark": {"type": "point", "shape": "circle", "size": 310, "filled": false, "stroke": "#d93a3a", "strokeWidth": 2, "opacity": 1},
 "encoding": {"x": {"field": "x", "type": "quantitative", "scale": {"domain": [-1, 1], "nice": false, "zero": false}, "axis": null}, "y": {"field": "y", "type": "quantitative", "scale": {"domain": [-1.03, 1.778], "nice": false, "zero": false}, "axis": null}}},
{"transform": [{"filter": "datum.kind === 'start'"}], "mark": {"type": "point", "shape": "circle", "size": 28, "filled": true, "color": "#1a1acc", "opacity": 1},
 "encoding": {"x": {"field": "x", "type": "quantitative", "scale": {"domain": [-1, 1], "nice": false, "zero": false}, "axis": null}, "y": {"field": "y", "type": "quantitative", "scale": {"domain": [-1.03, 1.778], "nice": false, "zero": false}, "axis": null}}},
{"transform": [{"filter": "datum.kind === 'end'"}], "mark": {"type": "point", "shape": "circle", "size": 28, "filled": true, "color": "#b8321e", "opacity": 1},
 "encoding": {"x": {"field": "x", "type": "quantitative", "scale": {"domain": [-1, 1], "nice": false, "zero": false}, "axis": null}, "y": {"field": "y", "type": "quantitative", "scale": {"domain": [-1.03, 1.778], "nice": false, "zero": false}, "axis": null}}},
{"transform": [{"filter": "datum.kind === 'platform'"}], "mark": {"type": "text", "font": "Liberation Sans", "fontWeight": "bold", "fontSize": 32, "baseline": "middle", "align": "center", "dx": -6, "color": "black"},
 "encoding": {"x": {"datum": 0, "type": "quantitative", "scale": {"domain": [-1, 1], "nice": false, "zero": false}, "axis": null}, "y": {"datum": 1.405, "type": "quantitative", "scale": {"domain": [-1.03, 1.778], "nice": false, "zero": false}, "axis": null}, "text": {"field": "arena"}}}
]
}
}
],
"spacing": 0,
"bounds": "flush",
"resolve": {"scale": {"color": "independent"}, "legend": {"color": "independent"}}
},
{
"hconcat": [
{"width": 21.2, "height": 10, "data": {"values": [{}]}, "mark": {"type": "point", "opacity": 0}},
{
"width": 232.6, "height": 247,
"title": {"text": "C", "anchor": "start", "frame": "group", "dx": -93.2, "offset": 4.4, "baseline": "alphabetic", "fontSize": 56, "font": "Open Sans", "fontWeight": "bold", "color": "black"},
"encoding": {"x": {"field": "g", "type": "nominal", "sort": null, "scale": {"domain": ["Con", "DFP", "Ket", "Ket + DFP", "Sev", "Sev + DFP"], "paddingInner": 0.42, "paddingOuter": 0.21}, "axis": {"title": null, "labelAngle": -45, "labelAlign": "right", "labelBaseline": "middle", "labelFontSize": 30, "labelPadding": 6, "labelOverlap": false, "labelLimit": 400, "tickSize": 11, "tickWidth": 3.5, "domainWidth": 3.5}}},
"layer": [
{"data": {"name": "quad"}, "mark": {"type": "bar", "stroke": "black", "strokeWidth": 3.5},
 "encoding": {"y": {"field": "m", "type": "quantitative", "title": "Target quadrant time (s)", "scale": {"domain": [0, 40], "range": [247, 14], "nice": false}, "axis": {"values": [0,10,20,30,40], "titleX": -75, "titleY": 147.3, "titleBaseline": "middle", "titleFontSize": 34, "labelFontSize": 28, "tickSize": 11, "labelPadding": 4, "tickWidth": 3.5, "domainWidth": 3.5}},
  "fill": {"field": "g", "type": "nominal", "scale": {"domain": ["Con", "DFP", "Ket", "Ket + DFP", "Sev", "Sev + DFP"], "range": ["#ffffff", "#a3a3a8", "#7f7f7f", "#000000", "#000000", "#000000"]}, "legend": null}}},
{"data": {"name": "quad"}, "transform": [{"filter": "datum.g === 'Sev' || datum.g === 'Sev + DFP'"}], "mark": {"type": "bar", "stroke": "black", "strokeWidth": 3.5},
 "encoding": {"y": {"field": "m", "type": "quantitative", "title": "Target quadrant time (s)", "scale": {"domain": [0, 40], "range": [247, 14], "nice": false}},
  "fill": {"value": {"expr": "datum.g === 'Sev' ? {gradient: 'linear', x1: 0, y1: 0, x2: 240*22.5/(pow(datum.m*5.825,2)+506), y2: 240*datum.m*5.825/(pow(datum.m*5.825,2)+506), stops: hatch} : {gradient: 'linear', x1: 0, y1: 1, x2: 240*22.5/(pow(datum.m*5.825,2)+506), y2: 1-240*datum.m*5.825/(pow(datum.m*5.825,2)+506), stops: hatch}"}}}},
{"data": {"name": "quad"}, "mark": {"type": "rule", "strokeWidth": 4, "color": "black"},
 "encoding": {"y": {"field": "m", "type": "quantitative", "title": "Target quadrant time (s)", "scale": {"domain": [0, 40], "range": [247, 14], "nice": false}}, "y2": {"field": "hi"}}},
{"data": {"name": "quad"}, "mark": {"type": "tick", "thickness": 4.5, "size": 13, "color": "black", "opacity": 1},
 "encoding": {"y": {"field": "hi", "type": "quantitative", "title": "Target quadrant time (s)", "scale": {"domain": [0, 40], "range": [247, 14], "nice": false}}}},
{"data": {"name": "quadMarks"}, "transform": [{"filter": "datum.sym === '*'"}], "mark": {"type": "text", "fontSize": 36, "fontWeight": "bold", "font": "Liberation Sans", "dy": 20, "color": "black", "baseline": "alphabetic"},
 "encoding": {"y": {"field": "y", "type": "quantitative", "title": "Target quadrant time (s)", "scale": {"domain": [0, 40], "range": [247, 14], "nice": false}}, "text": {"field": "sym"}}},
{"data": {"name": "quadMarks"}, "transform": [{"filter": "datum.sym === '#'"}], "mark": {"type": "text", "fontSize": 26, "fontWeight": "bold", "font": "Liberation Sans", "dy": 9.2, "color": "black", "baseline": "alphabetic"},
 "encoding": {"y": {"field": "y", "type": "quantitative", "title": "Target quadrant time (s)", "scale": {"domain": [0, 40], "range": [247, 14], "nice": false}}, "text": {"field": "sym"}}}
]
},
{"width": 125, "height": 10, "data": {"values": [{}]}, "mark": {"type": "point", "opacity": 0}},
{
"width": 230.4, "height": 247,
"title": {"text": "D", "anchor": "start", "frame": "group", "dx": -71.8, "offset": -7.8, "baseline": "alphabetic", "fontSize": 56, "font": "Open Sans", "fontWeight": "bold", "color": "black"},
"encoding": {"x": {"field": "g", "type": "nominal", "sort": null, "scale": {"domain": ["Con", "DFP", "Ket", "Ket + DFP", "Sev", "Sev + DFP"], "paddingInner": 0.42, "paddingOuter": 0.21}, "axis": {"title": null, "labelAngle": -45, "labelAlign": "right", "labelBaseline": "middle", "labelFontSize": 30, "labelPadding": 6, "labelOverlap": false, "labelLimit": 400, "tickSize": 11, "tickWidth": 3.5, "domainWidth": 3.5}}},
"layer": [
{"data": {"name": "cross"}, "mark": {"type": "bar", "stroke": "black", "strokeWidth": 3.5},
 "encoding": {"y": {"field": "m", "type": "quantitative", "title": "Crossing-platform times", "scale": {"domain": [0, 8], "range": [247, 14], "nice": false}, "axis": {"values": [0,2,4,6,8], "titleX": -59.8, "titleY": 138.3, "titleBaseline": "middle", "titleFontSize": 34, "labelFontSize": 28, "tickSize": 11, "labelPadding": 4, "tickWidth": 3.5, "domainWidth": 3.5}},
  "fill": {"field": "g", "type": "nominal", "scale": {"domain": ["Con", "DFP", "Ket", "Ket + DFP", "Sev", "Sev + DFP"], "range": ["#ffffff", "#d4d4d4", "#000000", "#7f7f7f", "#000000", "#000000"]}, "legend": null}}},
{"data": {"name": "cross"}, "transform": [{"filter": "datum.g === 'Sev' || datum.g === 'Sev + DFP'"}], "mark": {"type": "bar", "stroke": "black", "strokeWidth": 3.5},
 "encoding": {"y": {"field": "m", "type": "quantitative", "title": "Crossing-platform times", "scale": {"domain": [0, 8], "range": [247, 14], "nice": false}},
  "fill": {"value": {"expr": "datum.g === 'Sev' ? {gradient: 'linear', x1: 0, y1: 0, x2: 240*22.3/(pow(datum.m*29.125,2)+497), y2: 240*datum.m*29.125/(pow(datum.m*29.125,2)+497), stops: hatch} : {gradient: 'linear', x1: 0, y1: 1, x2: 240*22.3/(pow(datum.m*29.125,2)+497), y2: 1-240*datum.m*29.125/(pow(datum.m*29.125,2)+497), stops: hatch}"}}}},
{"data": {"name": "cross"}, "mark": {"type": "rule", "strokeWidth": 4, "color": "black"},
 "encoding": {"y": {"field": "m", "type": "quantitative", "title": "Crossing-platform times", "scale": {"domain": [0, 8], "range": [247, 14], "nice": false}}, "y2": {"field": "hi"}}},
{"data": {"name": "cross"}, "mark": {"type": "tick", "thickness": 4.5, "size": 13, "color": "black", "opacity": 1},
 "encoding": {"y": {"field": "hi", "type": "quantitative", "title": "Crossing-platform times", "scale": {"domain": [0, 8], "range": [247, 14], "nice": false}}}},
{"data": {"name": "crossMarks"}, "transform": [{"filter": "datum.sym === '*'"}], "mark": {"type": "text", "fontSize": 36, "fontWeight": "bold", "font": "Liberation Sans", "dy": 20, "color": "black", "baseline": "alphabetic"},
 "encoding": {"y": {"field": "y", "type": "quantitative", "title": "Crossing-platform times", "scale": {"domain": [0, 8], "range": [247, 14], "nice": false}}, "text": {"field": "sym"}}},
{"data": {"name": "crossMarks"}, "transform": [{"filter": "datum.sym === '#'"}], "mark": {"type": "text", "fontSize": 26, "fontWeight": "bold", "font": "Liberation Sans", "dy": 9.2, "color": "black", "baseline": "alphabetic"},
 "encoding": {"y": {"field": "y", "type": "quantitative", "title": "Crossing-platform times", "scale": {"domain": [0, 8], "range": [247, 14], "nice": false}}, "text": {"field": "sym"}}}
]
},
{"width": 139.8, "height": 10, "data": {"values": [{}]}, "mark": {"type": "point", "opacity": 0}},
{
"width": 243.5, "height": 247,
"title": {"text": "E", "anchor": "start", "frame": "group", "dx": -95.3, "offset": 17.7, "baseline": "alphabetic", "fontSize": 56, "font": "Open Sans", "fontWeight": "bold", "color": "black"},
"encoding": {"x": {"field": "g", "type": "nominal", "sort": null, "scale": {"domain": ["Con", "DFP", "Ket", "Ket + DFP", "Sev", "Sev + DFP"], "paddingInner": 0.42, "paddingOuter": 0.21}, "axis": {"title": null, "labelAngle": -45, "labelAlign": "right", "labelBaseline": "middle", "labelFontSize": 30, "labelPadding": 6, "labelOverlap": false, "labelLimit": 400, "tickSize": 11, "tickWidth": 3.5, "domainWidth": 3.5}}},
"layer": [
{"data": {"name": "swim"}, "mark": {"type": "bar", "stroke": "black", "strokeWidth": 3.5},
 "encoding": {"y": {"field": "m", "type": "quantitative", "title": "Swim speed (cm/s)", "scale": {"domain": [0, 20], "range": [247, 3.3], "nice": false}, "axis": {"values": [0,5,10,15,20], "titleX": -79.5, "titleY": 123.3, "titleBaseline": "middle", "titleFontSize": 34, "labelFontSize": 28, "tickSize": 11, "labelPadding": 4, "tickWidth": 3.5, "domainWidth": 3.5}},
  "fill": {"field": "g", "type": "nominal", "scale": {"domain": ["Con", "DFP", "Ket", "Ket + DFP", "Sev", "Sev + DFP"], "range": ["#ffffff", "#a3a3a8", "#7f7f7f", "#000000", "#000000", "#000000"]}, "legend": null}}},
{"data": {"name": "swim"}, "transform": [{"filter": "datum.g === 'Sev' || datum.g === 'Sev + DFP'"}], "mark": {"type": "bar", "stroke": "black", "strokeWidth": 3.5},
 "encoding": {"y": {"field": "m", "type": "quantitative", "title": "Swim speed (cm/s)", "scale": {"domain": [0, 20], "range": [247, 3.3], "nice": false}},
  "fill": {"value": {"expr": "datum.g === 'Sev' ? {gradient: 'linear', x1: 0, y1: 0, x2: 240*23.5/(pow(datum.m*12.185,2)+552), y2: 240*datum.m*12.185/(pow(datum.m*12.185,2)+552), stops: hatch} : {gradient: 'linear', x1: 0, y1: 1, x2: 240*23.5/(pow(datum.m*12.185,2)+552), y2: 1-240*datum.m*12.185/(pow(datum.m*12.185,2)+552), stops: hatch}"}}}},
{"data": {"name": "swim"}, "mark": {"type": "rule", "strokeWidth": 4, "color": "black"},
 "encoding": {"y": {"field": "m", "type": "quantitative", "title": "Swim speed (cm/s)", "scale": {"domain": [0, 20], "range": [247, 3.3], "nice": false}}, "y2": {"field": "hi"}}},
{"data": {"name": "swim"}, "mark": {"type": "tick", "thickness": 4.5, "size": 13, "color": "black", "opacity": 1},
 "encoding": {"y": {"field": "hi", "type": "quantitative", "title": "Swim speed (cm/s)", "scale": {"domain": [0, 20], "range": [247, 3.3], "nice": false}}}}
]
},
{"width": 178, "height": 10, "data": {"values": [{}]}, "mark": {"type": "point", "opacity": 0}},
{
"width": 238, "height": 247,
"title": {"text": "F", "anchor": "start", "frame": "group", "dx": -115.5, "offset": 40.1, "baseline": "alphabetic", "fontSize": 56, "font": "Open Sans", "fontWeight": "bold", "color": "black"},
"encoding": {"x": {"field": "g", "type": "nominal", "sort": null, "scale": {"domain": ["Con", "DFP", "Ket", "Ket + DFP", "Sev", "Sev + DFP"], "paddingInner": 0.42, "paddingOuter": 0.21}, "axis": {"title": null, "labelAngle": -45, "labelAlign": "right", "labelBaseline": "middle", "labelFontSize": 30, "labelPadding": 6, "labelOverlap": false, "labelLimit": 400, "tickSize": 11, "tickWidth": 3.5, "domainWidth": 3.5}}},
"layer": [
{"data": {"name": "context"}, "mark": {"type": "bar", "stroke": "black", "strokeWidth": 3.5},
 "encoding": {"y": {"field": "m", "type": "quantitative", "title": ["Freezing time to", "context test (%)"], "scale": {"domain": [0, 60], "range": [247, 5.1], "nice": false}, "axis": {"values": [0,20,40,60], "titleX": -98, "titleY": 125.3, "titleBaseline": "middle", "titleFontSize": 32.5, "titleLineHeight": 37, "labelFontSize": 28, "tickSize": 11, "labelPadding": 4, "tickWidth": 3.5, "domainWidth": 3.5}},
  "fill": {"field": "g", "type": "nominal", "scale": {"domain": ["Con", "DFP", "Ket", "Ket + DFP", "Sev", "Sev + DFP"], "range": ["#ffffff", "#d4d4d4", "#000000", "#7f7f7f", "#000000", "#000000"]}, "legend": null}}},
{"data": {"name": "context"}, "transform": [{"filter": "datum.g === 'Sev' || datum.g === 'Sev + DFP'"}], "mark": {"type": "bar", "stroke": "black", "strokeWidth": 3.5},
 "encoding": {"y": {"field": "m", "type": "quantitative", "title": ["Freezing time to", "context test (%)"], "scale": {"domain": [0, 60], "range": [247, 5.1], "nice": false}},
  "fill": {"value": {"expr": "datum.g === 'Sev' ? {gradient: 'linear', x1: 0, y1: 0, x2: 240*23/(pow(datum.m*4.032,2)+529), y2: 240*datum.m*4.032/(pow(datum.m*4.032,2)+529), stops: hatch} : {gradient: 'linear', x1: 0, y1: 1, x2: 240*23/(pow(datum.m*4.032,2)+529), y2: 1-240*datum.m*4.032/(pow(datum.m*4.032,2)+529), stops: hatch}"}}}},
{"data": {"name": "context"}, "mark": {"type": "rule", "strokeWidth": 4, "color": "black"},
 "encoding": {"y": {"field": "m", "type": "quantitative", "title": ["Freezing time to", "context test (%)"], "scale": {"domain": [0, 60], "range": [247, 5.1], "nice": false}}, "y2": {"field": "hi"}}},
{"data": {"name": "context"}, "mark": {"type": "tick", "thickness": 4.5, "size": 13, "color": "black", "opacity": 1},
 "encoding": {"y": {"field": "hi", "type": "quantitative", "title": ["Freezing time to", "context test (%)"], "scale": {"domain": [0, 60], "range": [247, 5.1], "nice": false}}}},
{"data": {"name": "contextMarks"}, "transform": [{"filter": "datum.sym === '*'"}], "mark": {"type": "text", "fontSize": 36, "fontWeight": "bold", "font": "Liberation Sans", "dy": 20, "color": "black", "baseline": "alphabetic"},
 "encoding": {"y": {"field": "y", "type": "quantitative", "title": ["Freezing time to", "context test (%)"], "scale": {"domain": [0, 60], "range": [247, 5.1], "nice": false}}, "text": {"field": "sym"}}},
{"data": {"name": "contextMarks"}, "transform": [{"filter": "datum.sym === '#'"}], "mark": {"type": "text", "fontSize": 26, "fontWeight": "bold", "font": "Liberation Sans", "dy": 9.2, "color": "black", "baseline": "alphabetic"},
 "encoding": {"y": {"field": "y", "type": "quantitative", "title": ["Freezing time to", "context test (%)"], "scale": {"domain": [0, 60], "range": [247, 5.1], "nice": false}}, "text": {"field": "sym"}}}
]
},
{"width": 183.5, "height": 10, "data": {"values": [{}]}, "mark": {"type": "point", "opacity": 0}},
{
"width": 245, "height": 247,
"title": {"text": "G", "anchor": "start", "frame": "group", "dx": -120, "offset": 34.5, "baseline": "alphabetic", "fontSize": 56, "font": "Open Sans", "fontWeight": "bold", "color": "black"},
"encoding": {"x": {"field": "g", "type": "nominal", "sort": null, "scale": {"domain": ["Con", "DFP", "Ket", "Ket + DFP", "Sev", "Sev + DFP"], "paddingInner": 0.42, "paddingOuter": 0.21}, "axis": {"title": null, "labelAngle": -45, "labelAlign": "right", "labelBaseline": "middle", "labelFontSize": 30, "labelPadding": 6, "labelOverlap": false, "labelLimit": 400, "tickSize": 11, "tickWidth": 3.5, "domainWidth": 3.5}}},
"layer": [
{"data": {"name": "tone"}, "mark": {"type": "bar", "stroke": "black", "strokeWidth": 3.5},
 "encoding": {"y": {"field": "m", "type": "quantitative", "title": ["Freezing time to", "tone test (%)"], "scale": {"domain": [0, 50], "range": [247, 0], "nice": false}, "axis": {"values": [0,10,20,30,40,50], "titleX": -101, "titleY": 122.3, "titleBaseline": "middle", "titleFontSize": 32.5, "titleLineHeight": 37, "labelFontSize": 28, "tickSize": 11, "labelPadding": 4, "tickWidth": 3.5, "domainWidth": 3.5}},
  "fill": {"field": "g", "type": "nominal", "scale": {"domain": ["Con", "DFP", "Ket", "Ket + DFP", "Sev", "Sev + DFP"], "range": ["#ffffff", "#d4d4d4", "#000000", "#7f7f7f", "#000000", "#000000"]}, "legend": null}}},
{"data": {"name": "tone"}, "transform": [{"filter": "datum.g === 'Sev' || datum.g === 'Sev + DFP'"}], "mark": {"type": "bar", "stroke": "black", "strokeWidth": 3.5},
 "encoding": {"y": {"field": "m", "type": "quantitative", "title": ["Freezing time to", "tone test (%)"], "scale": {"domain": [0, 50], "range": [247, 0], "nice": false}},
  "fill": {"value": {"expr": "datum.g === 'Sev' ? {gradient: 'linear', x1: 0, y1: 0, x2: 240*23.7/(pow(datum.m*4.94,2)+562), y2: 240*datum.m*4.94/(pow(datum.m*4.94,2)+562), stops: hatch} : {gradient: 'linear', x1: 0, y1: 1, x2: 240*23.7/(pow(datum.m*4.94,2)+562), y2: 1-240*datum.m*4.94/(pow(datum.m*4.94,2)+562), stops: hatch}"}}}},
{"data": {"name": "tone"}, "mark": {"type": "rule", "strokeWidth": 4, "color": "black"},
 "encoding": {"y": {"field": "m", "type": "quantitative", "title": ["Freezing time to", "tone test (%)"], "scale": {"domain": [0, 50], "range": [247, 0], "nice": false}}, "y2": {"field": "hi"}}},
{"data": {"name": "tone"}, "mark": {"type": "tick", "thickness": 4.5, "size": 13, "color": "black", "opacity": 1},
 "encoding": {"y": {"field": "hi", "type": "quantitative", "title": ["Freezing time to", "tone test (%)"], "scale": {"domain": [0, 50], "range": [247, 0], "nice": false}}}}
]
}
],
"spacing": 0,
"bounds": "flush",
"resolve": {"scale": {"fill": "independent"}, "legend": {"fill": "independent"}}
}
],
"spacing": 59.7,
"resolve": {"scale": {"color": "independent", "fill": "independent"}, "legend": {"color": "independent", "fill": "independent"}},
"config": {
"view": {"stroke": null},
"font": "Liberation Sans",
"axis": {"domainColor": "black", "tickColor": "black", "labelColor": "black", "titleColor": "black", "labelFont": "Liberation Sans", "titleFont": "Liberation Sans", "labelFontWeight": "bold", "titleFontWeight": "bold", "grid": false},
"title": {"color": "black"}
}
}
